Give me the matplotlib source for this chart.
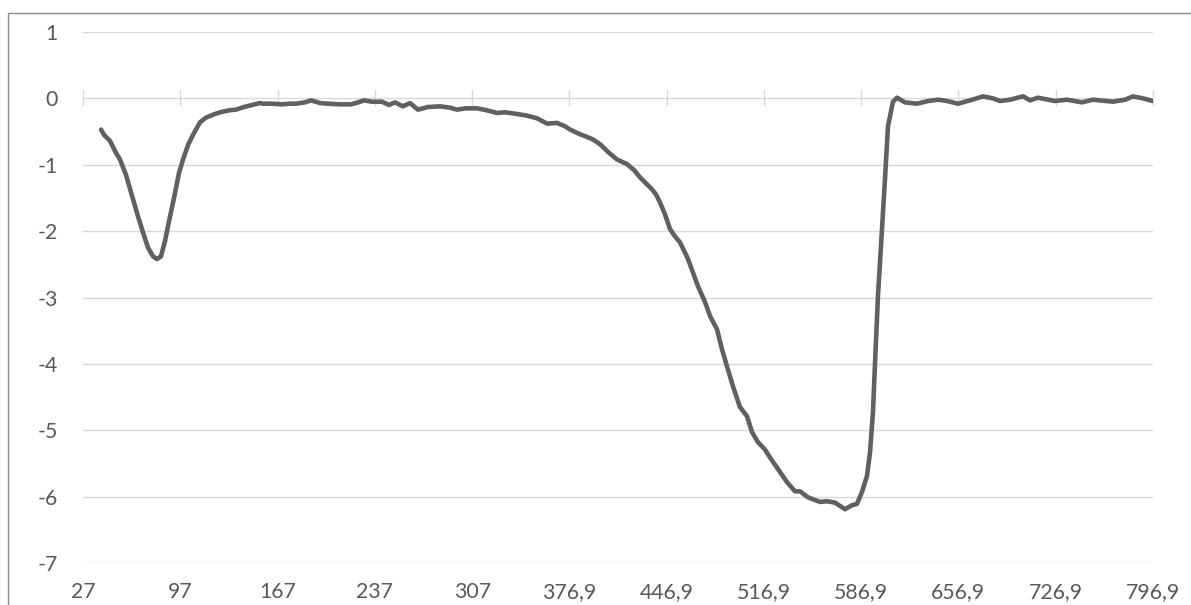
import matplotlib
matplotlib.use("Agg")
import matplotlib.pyplot as plt
from matplotlib.patches import Rectangle

plt.rcParams['font.family'] = ['Lato', 'DejaVu Sans']
plt.rcParams['axes.unicode_minus'] = False

# values
x_vals = [40.0, 42.1, 46.4, 50.7, 53.6, 57.9, 63.0, 66.6, 70.2, 73.8,
          77.4, 80.2, 83.1, 86.0, 88.9, 92.5, 96.1, 99.0, 102.6, 106.9,
          111.2, 115.5, 121.3, 125.6, 132.1, 137.1, 142.8, 148.6, 154.4, 156.5,
          163.0, 170.2, 175.9, 180.3, 186.7, 191.1, 197.5, 203.3, 211.9, 219.8,
          224.9, 229.2, 234.9, 242.1, 247.2, 251.5, 257.2, 262.3, 268.0, 275.2,
          283.9, 291.1, 296.1, 302.6, 310.5, 317.7, 324.9, 330.6, 337.8, 346.5,
          353.7, 360.9, 368.1, 373.8, 377.4, 384.6, 389.6, 394.0, 399.0, 405.5,
          411.2, 418.4, 423.5, 427.8, 432.1, 436.4, 439.4, 442.2, 445.8, 449.4,
          453.0, 456.6, 462.3, 469.5, 474.6, 478.2, 483.2, 486.8, 490.4, 494.7,
          499.7, 504.8, 508.4, 512.7, 517.7, 521.3, 528.5, 533.5, 539.3, 542.9,
          548.6, 557.3, 562.3, 568.1, 575.3, 580.3, 583.9, 587.5, 591.1, 593.3,
          595.4, 596.9, 599.0, 601.9, 604.1, 606.2, 609.8, 612.7, 618.4, 627.1,
          635.0, 642.2, 648.7, 656.6, 665.2, 674.6, 681.8, 686.8, 694.0, 703.4,
          708.4, 714.1, 726.4, 735.0, 745.8, 753.7, 768.1, 776.8, 782.5, 789.7,
          796.9]
y_vals = [-0.47, -0.55, -0.64, -0.82, -0.92, -1.15, -1.52, -1.78, -2.02, -2.25,
          -2.38, -2.42, -2.38, -2.15, -1.85, -1.50, -1.12, -0.92, -0.70, -0.52,
          -0.36, -0.29, -0.24, -0.21, -0.18, -0.17, -0.13, -0.10, -0.07, -0.08,
          -0.08, -0.09, -0.08, -0.08, -0.06, -0.03, -0.07, -0.08, -0.09, -0.09,
          -0.06, -0.03, -0.05, -0.05, -0.10, -0.06, -0.12, -0.07, -0.17, -0.13,
          -0.12, -0.14, -0.17, -0.15, -0.15, -0.18, -0.22, -0.21, -0.23, -0.26,
          -0.30, -0.38, -0.37, -0.42, -0.47, -0.54, -0.58, -0.62, -0.69, -0.82,
          -0.92, -0.99, -1.08, -1.19, -1.28, -1.37, -1.45, -1.57, -1.75, -1.97,
          -2.08, -2.17, -2.42, -2.83, -3.07, -3.28, -3.48, -3.78, -4.04, -4.34,
          -4.65, -4.79, -5.03, -5.18, -5.29, -5.41, -5.63, -5.78, -5.92, -5.92,
          -6.01, -6.08, -6.07, -6.09, -6.19, -6.13, -6.11, -5.93, -5.69, -5.33,
          -4.73, -3.98, -2.98, -1.97, -1.20, -0.42, -0.05, 0.01, -0.06, -0.08,
          -0.04, -0.02, -0.04, -0.08, -0.03, 0.03, 0.00, -0.04, -0.02, 0.03,
          -0.03, 0.01, -0.04, -0.02, -0.06, -0.02, -0.05, -0.02, 0.03, 0.00,
          -0.04]

x_ticks = [27, 97, 167, 237, 307, 376.9, 446.9, 516.9, 586.9, 656.9, 726.9, 796.9]
x_labels = ['27', '97', '167', '237', '307', '376,9', '446,9', '516,9',
            '586,9', '656,9', '726,9', '796,9']
y_ticks = [1, 0, -1, -2, -3, -4, -5, -6, -7]

grid_c = '#d9d9d9'
text_c = '#595959'

fig = plt.figure(figsize=(11.91, 6.05), dpi=100)
ax = fig.add_axes([83 / 1191, 42 / 605, 1070 / 1191, 531 / 605])

ax.set_xlim(27, 796.9)
ax.set_ylim(-7, 1)
for y in y_ticks:
    ax.axhline(y, color=grid_c, lw=1.0, zorder=1)
# axis at zero with tick marks
ax.plot(x_ticks, [0] * len(x_ticks), linestyle='none', marker='|',
        markersize=11, markeredgewidth=1.0, color=grid_c, zorder=1, clip_on=False)

ax.plot(x_vals, y_vals, color='#606060', lw=3.3, solid_capstyle='round',
        solid_joinstyle='round', zorder=3)

ax.set_xticks(x_ticks)
ax.set_xticklabels(x_labels)
ax.set_yticks(y_ticks)
ax.set_yticklabels([str(v) for v in y_ticks])
ax.tick_params(axis='both', length=0, labelsize=15.3, labelcolor=text_c)
ax.tick_params(axis='x', pad=14)
ax.tick_params(axis='y', pad=18)
for s in ax.spines.values():
    s.set_visible(False)

# outer chart frame (continues beyond the crop)
frame = Rectangle((8 / 1191, -0.1), 1.2, 1.1 - 12.5 / 605, transform=fig.transFigure,
                  fill=False, edgecolor='#8c8c8c', lw=1.0, clip_on=False)
fig.add_artist(frame)

fig.savefig('out.png', dpi=100)
